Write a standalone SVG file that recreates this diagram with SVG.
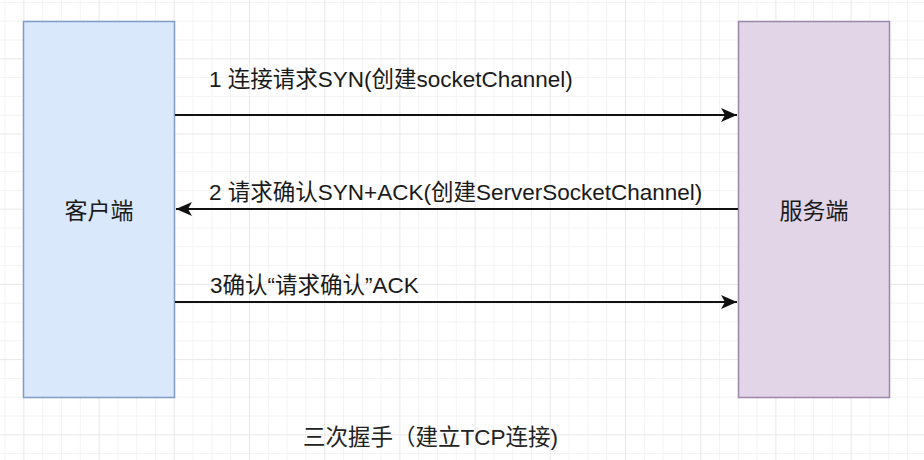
<svg xmlns="http://www.w3.org/2000/svg" width="924" height="460" viewBox="0 0 924 460">
  <defs>
    <pattern id="grid" x="23.4" y="-16.9" width="75.2" height="75.2" patternUnits="userSpaceOnUse">
      <rect x="0" y="18.8" width="75.2" height="1" fill="#f3f3f3"/>
      <rect x="0" y="37.6" width="75.2" height="1" fill="#f3f3f3"/>
      <rect x="0" y="56.4" width="75.2" height="1" fill="#f3f3f3"/>
      <rect x="18.8" y="0" width="1" height="75.2" fill="#f3f3f3"/>
      <rect x="37.6" y="0" width="1" height="75.2" fill="#f3f3f3"/>
      <rect x="56.4" y="0" width="1" height="75.2" fill="#f3f3f3"/>
      <rect x="0" y="0" width="75.2" height="1" fill="#e8e8e8"/>
      <rect x="0" y="0" width="1" height="75.2" fill="#e8e8e8"/>
    </pattern>
    <marker id="arrow" viewBox="0 0 16 14" refX="16" refY="7" markerWidth="16" markerHeight="14" markerUnits="userSpaceOnUse" orient="auto">
      <path d="M0 0 L16 7 L0 14 L4 7 Z" fill="#111111"/>
    </marker>
  </defs>
  <style>
    .lbl { font-family: "Liberation Sans", "Noto Sans CJK SC", sans-serif; font-size: 22.5px; fill: #1a1a1a; }
    .cap { font-family: "Liberation Sans", "Noto Sans CJK SC", sans-serif; font-size: 22.5px; fill: #222222; }
    .node-text { font-family: "Liberation Sans", "Noto Sans CJK SC", sans-serif; font-size: 23px; fill: #1a1a1a; text-anchor: middle; }
    .conn { stroke: #111111; stroke-width: 2; fill: none; marker-end: url(#arrow); }
  </style>
  <rect x="0" y="0" width="924" height="460" fill="#ffffff"/>
  <rect x="0" y="0" width="924" height="460" fill="url(#grid)"/>

  <g id="client">
    <rect x="23.5" y="21.5" width="151" height="376" fill="#dae8fc" stroke="#7f9cc6" stroke-width="1.5"/>
    <text class="node-text" x="99" y="219">客户端</text>
  </g>

  <g id="server">
    <rect x="738.5" y="21.5" width="151" height="376" fill="#e1d5e7" stroke="#9c87ab" stroke-width="1.5"/>
    <text class="node-text" x="814" y="219">服务端</text>
  </g>

  <g id="connectors">
    <line class="conn" x1="175" y1="115" x2="737" y2="115"/>
    <line class="conn" x1="738" y1="209" x2="176" y2="209"/>
    <line class="conn" x1="175" y1="302" x2="737" y2="302"/>
    <text class="lbl" x="209" y="87">1 连接请求SYN(创建socketChannel)</text>
    <text class="lbl" x="209" y="200">2 请求确认SYN+ACK(创建ServerSocketChannel)</text>
    <text class="lbl" x="210" y="293">3确认“请求确认”ACK</text>
  </g>

  <g id="caption">
    <text class="cap" x="303" y="445">三次握手（建立TCP连接)</text>
  </g>
</svg>
